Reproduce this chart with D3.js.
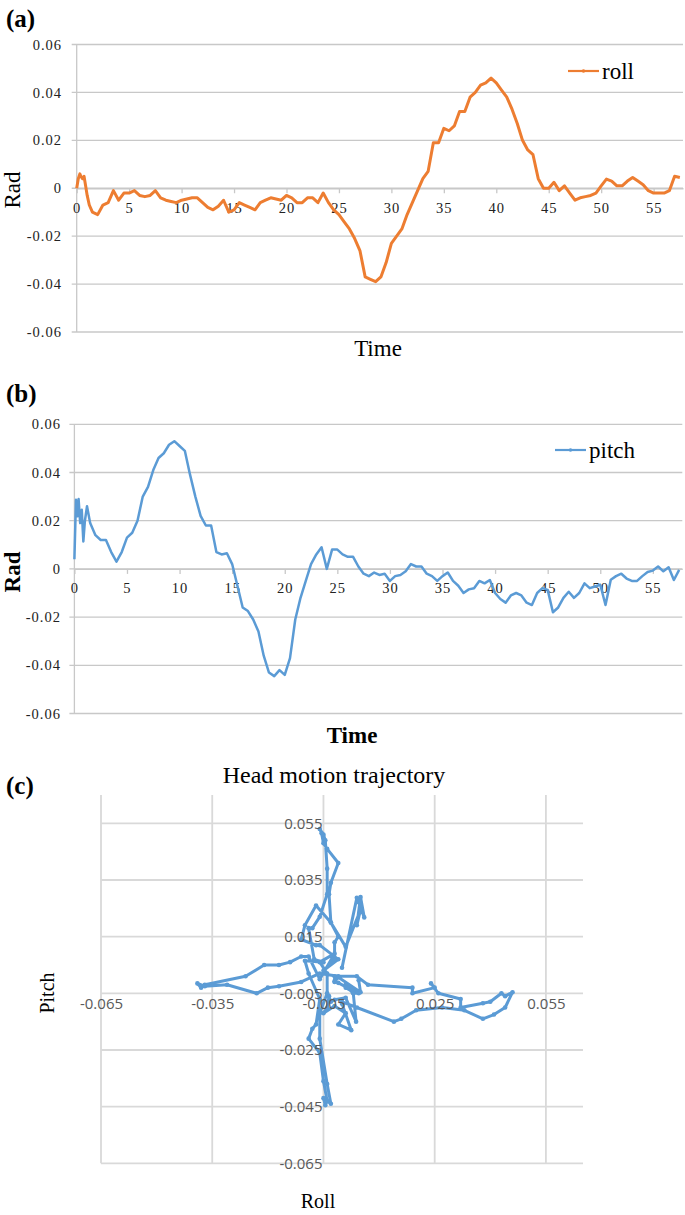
<!DOCTYPE html>
<html>
<head>
<meta charset="utf-8">
<script src="https://cdn.jsdelivr.net/npm/d3@7"></script>
<style>
  body { margin: 0; background: #fff; }
  svg text { font-family: "Liberation Serif", "Times New Roman", serif; }
  svg text.sans { font-family: "Open Sans", sans-serif; }
</style>
</head>
<body>
<script>
// sample times (s): a few fast samples at the start, then every 0.5 s
var timeHead = [0, 0.15, 0.3, 0.4, 0.55, 0.7, 0.85, 1.0, 1.2];
var time = timeHead.concat(d3.range(1.5, 57.6, 0.5));

var roll = [
  0.000, 0.004, 0.006, 0.005, 0.004, 0.005, 0.001, -0.003, -0.007,
  -0.010, -0.011, -0.007, -0.006, -0.001, -0.005, -0.002,
  -0.002, -0.001, -0.003, -0.0035, -0.003, -0.001, -0.004, -0.005, -0.0055, -0.006,
  -0.005, -0.0045, -0.004, -0.004, -0.006, -0.008, -0.009, -0.0075, -0.005, -0.010,
  -0.009, -0.006, -0.007, -0.008, -0.009, -0.006, -0.005, -0.004, -0.0045, -0.005,
  -0.003, -0.004, -0.006, -0.006, -0.004, -0.004, -0.006, -0.002, -0.006, -0.009,
  -0.011, -0.014, -0.017, -0.021, -0.026, -0.037, -0.038, -0.039, -0.037, -0.031,
  -0.023, -0.020, -0.017, -0.011, -0.006, -0.001, 0.004, 0.007, 0.019, 0.019,
  0.025, 0.024, 0.026, 0.032, 0.032, 0.038, 0.040, 0.043, 0.044, 0.046,
  0.044, 0.041, 0.038, 0.033, 0.027, 0.020, 0.016, 0.014, 0.004, 0.000,
  0.000, 0.0025, -0.001, 0.001, -0.002, -0.005, -0.004, -0.0035, -0.003, -0.002,
  0.001, 0.0038, 0.003, 0.001, 0.001, 0.003, 0.0045, 0.003, 0.0015, -0.001,
  -0.002, -0.002, -0.002, -0.001, 0.005, 0.0045
];

var pitch = [
  0.004, 0.0287, 0.0218, 0.029, 0.019, 0.0245, 0.0114, 0.020, 0.026,
  0.019, 0.014, 0.012, 0.012, 0.007, 0.003, 0.007,
  0.013, 0.015, 0.020, 0.030, 0.034, 0.041, 0.046, 0.048, 0.0515, 0.053,
  0.051, 0.049, 0.039, 0.030, 0.022, 0.018, 0.018, 0.007, 0.006, 0.0065,
  0.002, -0.007, -0.016, -0.0175, -0.021, -0.026, -0.036, -0.043, -0.0445, -0.042,
  -0.044, -0.037, -0.021, -0.012, -0.005, 0.002, 0.006, 0.009, 0.000, 0.008,
  0.008, 0.006, 0.005, 0.005, 0.001, -0.002, -0.003, -0.0015, -0.0025, -0.002,
  -0.005, -0.003, -0.0025, -0.001, 0.002, 0.001, 0.001, -0.002, -0.003, -0.005,
  -0.003, -0.0015, -0.005, -0.007, -0.010, -0.0085, -0.008, -0.005, -0.006, -0.0046,
  -0.010, -0.0125, -0.014, -0.011, -0.010, -0.011, -0.014, -0.015, -0.010, -0.008,
  -0.0087, -0.018, -0.016, -0.012, -0.0095, -0.012, -0.010, -0.006, -0.008, -0.0073,
  -0.0066, -0.015, -0.0045, -0.003, -0.002, -0.004, -0.005, -0.005, -0.003, -0.0013,
  -0.0007, 0.001, -0.001, 0.0007, -0.0046, -0.0004
];

var radTicks = [-0.06, -0.04, -0.02, 0, 0.02, 0.04, 0.06];
var timeTicks = [0, 5, 10, 15, 20, 25, 30, 35, 40, 45, 50, 55];
var trajTicks = [-0.065, -0.035, -0.005, 0.025, 0.055];
var trajYTicks = [-0.065, -0.045, -0.025, -0.005, 0.015, 0.035, 0.055];

var W = 685, H = 1215;
var orange = '#ED7D31', blue = '#5B9BD5';

var svg = d3.select('body').append('svg')
  .attr('width', W)
  .attr('height', H);

var radFmt = function(d) { return d === 0 ? '0' : d.toFixed(2); };

function linePanel(o) {
  var g = svg.append('g');
  var x = d3.scaleLinear().domain([0, 57.8]).range([o.left, o.right]);
  var y = d3.scaleLinear().domain([-0.06, 0.06]).range([o.bottom, o.top]);

  // horizontal gridlines (with the little left tick)
  g.append('g').selectAll('line')
    .data(radTicks)
    .enter().append('line')
    .attr('x1', o.left - 5).attr('x2', o.right)
    .attr('y1', function(d) { return y(d); })
    .attr('y2', function(d) { return y(d); })
    .attr('stroke', '#c8c8c8')
    .attr('stroke-width', 1.3);

  g.append('line')
    .attr('x1', o.left).attr('x2', o.left)
    .attr('y1', o.top).attr('y2', o.bottom)
    .attr('stroke', '#c8c8c8')
    .attr('stroke-width', 1.3);

  var ya = g.append('g')
    .attr('transform', 'translate(' + o.left + ',0)')
    .call(d3.axisLeft(y).tickValues(radTicks).tickSize(0)
      .tickPadding(o.left - o.labelRight).tickFormat(radFmt));
  ya.select('.domain').remove();
  ya.attr('font-family', null).attr('font-size', null);
  ya.selectAll('text')
    .attr('font-size', 14.5)
    .attr('letter-spacing', 1)
    .attr('fill', '#222');

  var xa = g.append('g')
    .attr('transform', 'translate(0,' + y(0) + ')')
    .call(d3.axisBottom(x).tickValues(timeTicks).tickSizeInner(5).tickSizeOuter(0)
      .tickPadding(9).tickFormat(d3.format('d')));
  xa.attr('font-family', null).attr('font-size', null);
  xa.select('.domain').attr('stroke', '#c8c8c8').attr('stroke-width', 1.3);
  xa.selectAll('.tick line').attr('stroke', '#c8c8c8').attr('stroke-width', 1.3);
  xa.selectAll('text')
    .attr('font-size', 14.5)
    .attr('letter-spacing', 1)
    .attr('fill', '#222');

  var line = d3.line()
    .x(function(d, i) { return x(time[i]); })
    .y(function(d) { return y(d); });

  g.append('path')
    .datum(o.values)
    .attr('d', line)
    .attr('fill', 'none')
    .attr('stroke', o.color)
    .attr('stroke-width', o.width)
    .attr('stroke-linejoin', 'round');

  // legend
  g.append('line')
    .attr('x1', o.legX).attr('x2', o.legX + 31)
    .attr('y1', o.legY).attr('y2', o.legY)
    .attr('stroke', o.color).attr('stroke-width', 2.2);
  g.append('circle')
    .attr('cx', o.legX + 15.5).attr('cy', o.legY).attr('r', 1.8)
    .attr('fill', o.color);
  g.append('text')
    .attr('x', o.legX + 34).attr('y', o.legY + 8)
    .attr('font-size', 23)
    .text(o.name);

  // panel letter and axis titles
  g.append('text')
    .attr('x', 6).attr('y', o.letterY)
    .attr('font-size', 25).attr('font-weight', 'bold')
    .text(o.letter);
  g.append('text')
    .attr('transform', 'translate(' + o.radX + ',' + o.radY + ') rotate(-90)')
    .attr('text-anchor', 'middle')
    .attr('font-size', 23)
    .attr('font-weight', o.bold ? 'bold' : 'normal')
    .text('Rad');
  g.append('text')
    .attr('x', o.timeX).attr('y', o.timeY)
    .attr('text-anchor', 'middle')
    .attr('font-size', 23)
    .attr('font-weight', o.bold ? 'bold' : 'normal')
    .text('Time');
}

linePanel({
  left: 76.7, right: 683, top: 44.5, bottom: 332, labelRight: 62,
  values: roll, color: orange, width: 3, name: 'roll',
  legX: 568, legY: 71, letter: '(a)', letterY: 27,
  radX: 20, radY: 190, timeX: 378, timeY: 356, bold: false
});

linePanel({
  left: 74.4, right: 682.3, top: 424.3, bottom: 713.5, labelRight: 61,
  values: pitch, color: blue, width: 2.5, name: 'pitch',
  legX: 555, legY: 450, letter: '(b)', letterY: 402,
  radX: 20, radY: 572, timeX: 352, timeY: 743, bold: true
});

// (c) head motion trajectory: roll vs pitch
var cx = d3.scaleLinear().domain([-0.065, 0.065]).range([101, 583]);
var cy = d3.scaleLinear().domain([-0.065, 0.065]).range([1163.3, 795]);
var gc = svg.append('g');
var trajFmt = function(d) { return d.toFixed(3); };

gc.append('g').selectAll('line')
  .data(trajTicks)
  .enter().append('line')
  .attr('x1', function(d) { return cx(d); })
  .attr('x2', function(d) { return cx(d); })
  .attr('y1', cy(0.065)).attr('y2', cy(-0.065))
  .attr('stroke', '#d9d9d9').attr('stroke-width', 1.8);

gc.append('g').selectAll('line')
  .data(trajYTicks)
  .enter().append('line')
  .attr('x1', cx(-0.065)).attr('x2', cx(0.065))
  .attr('y1', function(d) { return cy(d); })
  .attr('y2', function(d) { return cy(d); })
  .attr('stroke', '#d9d9d9').attr('stroke-width', 1.8);

var pts = roll.map(function(r, i) { return [r, pitch[i]]; });

gc.append('path')
  .datum(pts)
  .attr('d', d3.line()
    .x(function(d) { return cx(d[0]); })
    .y(function(d) { return cy(d[1]); }))
  .attr('fill', 'none')
  .attr('stroke', blue)
  .attr('stroke-width', 3)
  .attr('stroke-linejoin', 'round')
  .attr('stroke-linecap', 'round');

gc.append('g').selectAll('circle')
  .data(pts)
  .enter().append('circle')
  .attr('cx', function(d) { return cx(d[0]); })
  .attr('cy', function(d) { return cy(d[1]); })
  .attr('r', 2.3)
  .attr('fill', blue);

// tick labels sit on the axes that cross at -0.005
var cxa = gc.append('g')
  .attr('transform', 'translate(0,' + cy(-0.005) + ')')
  .call(d3.axisBottom(cx).tickValues(trajTicks).tickSize(0).tickPadding(5).tickFormat(trajFmt));
cxa.select('.domain').remove();
cxa.attr('font-family', null).attr('font-size', null);
cxa.selectAll('text')
  .attr('class', 'sans')
  .attr('font-size', 15)
  .attr('fill', '#595959');

var cya = gc.append('g')
  .attr('transform', 'translate(' + cx(-0.005) + ',0)')
  .call(d3.axisLeft(cy).tickValues(trajYTicks).tickSize(0).tickPadding(1).tickFormat(trajFmt));
cya.select('.domain').remove();
cya.attr('font-family', null).attr('font-size', null);
cya.selectAll('text')
  .attr('class', 'sans')
  .attr('font-size', 15)
  .attr('fill', '#595959');

gc.append('text')
  .attr('x', 334).attr('y', 783)
  .attr('text-anchor', 'middle')
  .attr('font-size', 24)
  .text('Head motion trajectory');
gc.append('text')
  .attr('x', 6).attr('y', 794)
  .attr('font-size', 25).attr('font-weight', 'bold')
  .text('(c)');
gc.append('text')
  .attr('x', 318).attr('y', 1208)
  .attr('text-anchor', 'middle')
  .attr('font-size', 20)
  .text('Roll');
gc.append('text')
  .attr('transform', 'translate(54,993) rotate(-90)')
  .attr('text-anchor', 'middle')
  .attr('font-size', 20)
  .text('Pitch');
</script>
</body>
</html>
